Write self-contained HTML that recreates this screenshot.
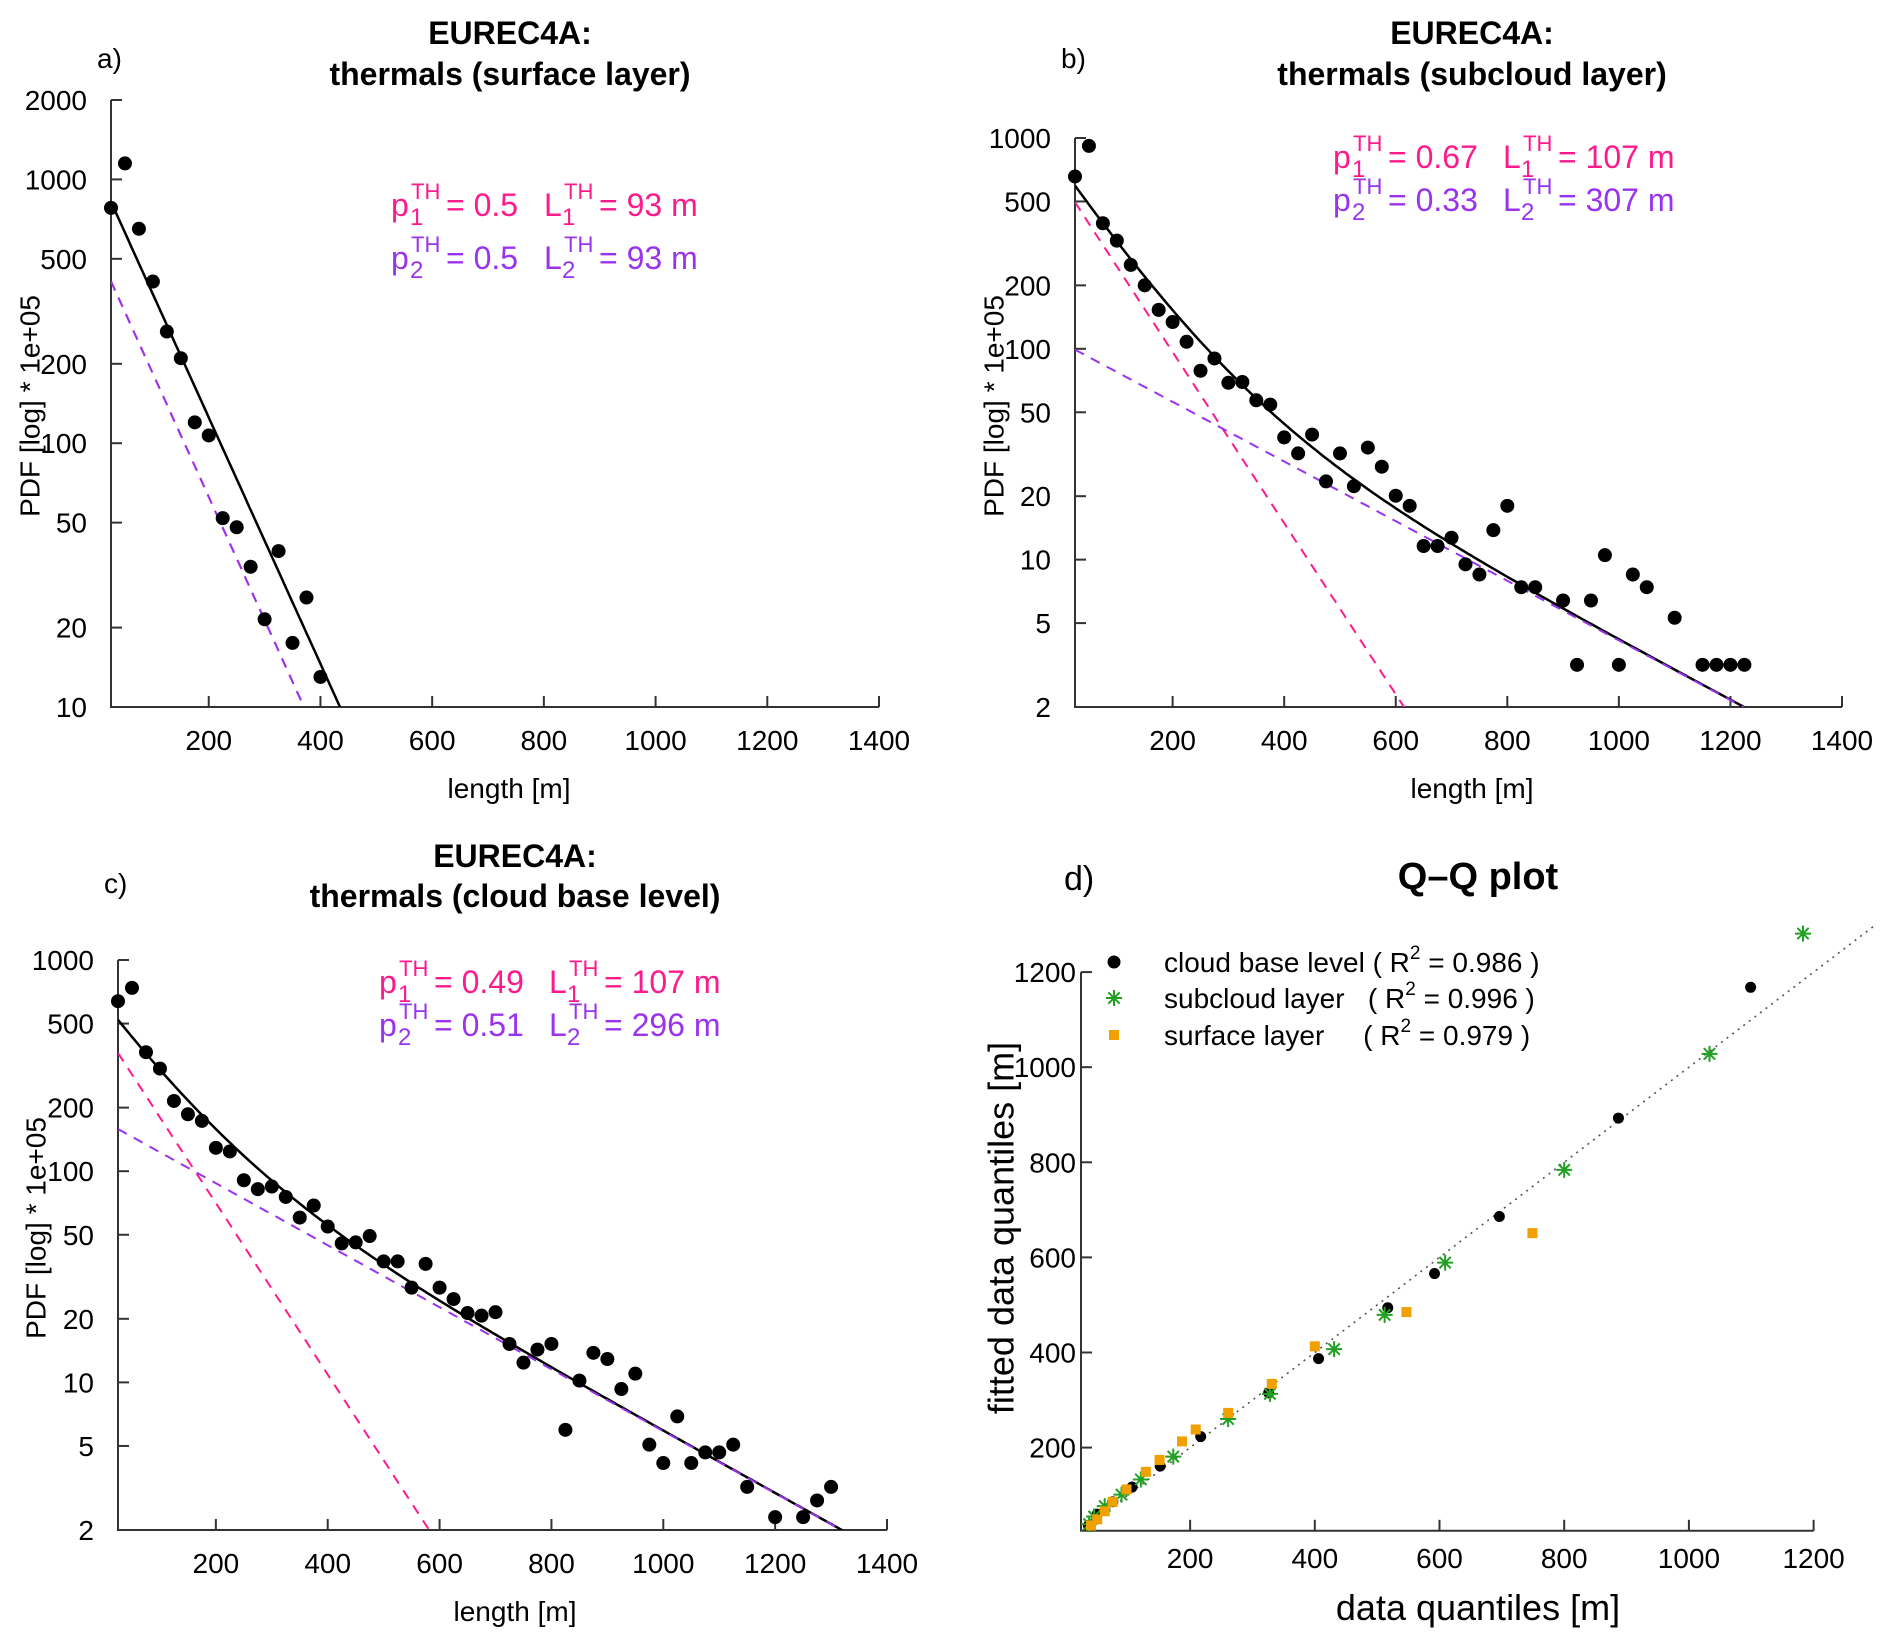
<!DOCTYPE html>
<html><head><meta charset="utf-8"><style>
html,body{margin:0;padding:0;background:#fff}
svg{display:block;font-family:"Liberation Sans",sans-serif}
</style></head><body>
<svg id="fig" width="1892" height="1644" viewBox="0 0 1892 1644" xmlns="http://www.w3.org/2000/svg">
<rect width="1892" height="1644" fill="#fff"/>
<g font-family="Liberation Sans, sans-serif" fill="#000">
<text x="97" y="68" font-size="28">a)</text>
<text x="510" y="44" font-size="32" font-weight="bold" text-anchor="middle">EUREC4A:</text>
<text x="510" y="85" font-size="32" font-weight="bold" text-anchor="middle">thermals (surface layer)</text>
<text x="1061" y="68" font-size="28">b)</text>
<text x="1472" y="44" font-size="32" font-weight="bold" text-anchor="middle">EUREC4A:</text>
<text x="1472" y="85" font-size="32" font-weight="bold" text-anchor="middle">thermals (subcloud layer)</text>
<text x="104" y="893" font-size="28">c)</text>
<text x="515" y="867" font-size="32" font-weight="bold" text-anchor="middle">EUREC4A:</text>
<text x="515" y="907" font-size="32" font-weight="bold" text-anchor="middle">thermals (cloud base level)</text>
<text x="1064" y="890" font-size="34">d)</text>
<text x="1478" y="889" font-size="38" font-weight="bold" text-anchor="middle">Q–Q plot</text>
<text x="509" y="798" font-size="28" text-anchor="middle">length [m]</text>
<text x="1472" y="798" font-size="28" text-anchor="middle">length [m]</text>
<text x="515" y="1621" font-size="28" text-anchor="middle">length [m]</text>
<text x="1478" y="1620" font-size="36" text-anchor="middle">data quantiles [m]</text>
<text transform="translate(30,406) rotate(-90)" font-size="28" text-anchor="middle" dominant-baseline="central">PDF [log] * 1e+05</text>
<text transform="translate(994,406) rotate(-90)" font-size="28" text-anchor="middle" dominant-baseline="central">PDF [log] * 1e+05</text>
<text transform="translate(36,1228) rotate(-90)" font-size="28" text-anchor="middle" dominant-baseline="central">PDF [log] * 1e+05</text>
<text transform="translate(1001,1228) rotate(-90)" font-size="36" text-anchor="middle" dominant-baseline="central">fitted data quantiles [m]</text>
</g>
<g id="layer"></g>
</svg>
<script>
// ---- data ----
const xA = [25,50,75,100,125,150,175,200,225,250,275,300,325,350,375,400];
const yA = [780,1150,650,410,265,210,120,107,52,48,34,21.5,39,17.5,26,13];
const pA = [0.5,0.5];
const LA = [93,93];
const xB = [25,50,75,100,125,150,175,200,225,250,275,300,325,350,375,400,425,450,475,500,525,550,575,600,625,650,675,700,725,750,775,800,825,850,900,925,950,975,1000,1025,1050,1100,1150,1175,1200,1225];
const yB = [657,917,394,326,250,200,153,134,108,78.7,90,69,69.6,57,54.4,38,31.9,39.2,23.5,31.9,22.3,34,27.6,20.1,18,11.6,11.6,12.7,9.5,8.5,13.8,18,7.4,7.4,6.4,3.17,6.4,10.5,3.17,8.5,7.4,5.3,3.17,3.17,3.17,3.17];
const pB = [0.67,0.33];
const LB = [107,307];
const xC = [25,50,75,100,125,150,175,200,225,250,275,300,325,350,375,400,425,450,475,500,525,550,575,600,625,650,675,700,725,750,775,800,825,850,875,900,925,950,975,1000,1025,1050,1075,1100,1125,1150,1200,1250,1275,1300];
const yC = [638,738,366,306,215,186,173,129,124,90.6,82.2,84.6,75.5,60.3,68.8,54.7,45.5,46,49.3,37.4,37.4,28.1,36.4,28.1,24.8,21.3,20.7,21.5,15.2,12.4,14.3,15.2,5.96,10.2,13.8,12.9,9.3,11,5.07,4.15,6.9,4.15,4.66,4.66,5.07,3.2,2.3,2.3,2.76,3.2];
const pC = [0.49,0.51];
const LC = [107,296];
const qqCloudX = [1099,887,696,592,517,406,326,217,152,107,76,51,37];
const qqCloudY = [1168,893,686,566,494,387,315,223,161,117,86,60,36];
const qqSubX = [1183,1033,800,609,512,431,328,261,173,121,90,63,46,38];
const qqSubY = [1281,1028,784,589,479,407,313,260,181,133,101,77,55,39];
const qqSurfX = [749,547,400,331,261,209,187,151,129,98,76,63,51,41];
const qqSurfY = [651,485,413,334,273,238,213,174,149,112,86,66,49,36];
const xTicks = [200,400,600,800,1000,1200,1400];
const yTicksA = [10,20,50,100,200,500,1000,2000];
const yTicksBC = [2,5,10,20,50,100,200,500,1000];
const qqTicks = [200,400,600,800,1000,1200];
const legendLabels = ["cloud base level ( R","subcloud layer   ( R","surface layer     ( R"];
const legendR2 = ["0.986","0.996","0.979"];

const NS = "http://www.w3.org/2000/svg";
const layer = document.getElementById('layer');
const PINK = "#ff1a8c", PURP = "#9933ee";
function mk(tag, attrs, parent){ const e=document.createElementNS(NS,tag); for(const k in attrs) e.setAttribute(k,attrs[k]); (parent||layer).appendChild(e); return e; }

function logPanel(id, px0, px1, pyTop, pyBot, ymin, ymax, yTicks, xs, ys, p, L, ann){
  const xmin=25, xmax=1400;
  const sx = v => px0 + (v-xmin)/(xmax-xmin)*(px1-px0);
  const sy = v => pyBot - (Math.log10(v)-Math.log10(ymin))/(Math.log10(ymax)-Math.log10(ymin))*(pyBot-pyTop);
  const g = mk('g',{});
  
  
  const cp = mk('clipPath',{id:'clip'+id}, g);
  mk('rect',{x:px0,y:pyTop,width:px1-px0,height:pyBot-pyTop},cp);
  // axes
  const ax = mk('path',{d:`M${px0},${pyTop}V${pyBot}H${px1}`,fill:'none',stroke:'#333','stroke-width':2},g);
  
  
  xTicks.forEach(t=>{
    const x=sx(t);
    const tk = mk('line',{x1:x,x2:x,y1:pyBot,y2:pyBot-11,stroke:'#333','stroke-width':2},g);
    
    
    const tl = mk('text',{x:x,y:pyBot+43,'font-size':28,'text-anchor':'middle'},g);
    
    
    tl.textContent=t;
  });
  yTicks.forEach(t=>{
    const y=sy(t);
    const tk = mk('line',{x1:px0,x2:px0+11,y1:y,y2:y,stroke:'#333','stroke-width':2},g);
    
    
    const tl = mk('text',{x:px0-24,y:y+10,'font-size':28,'text-anchor':'end'},g);
    
    
    tl.textContent=t;
  });
  const cg = mk('g',{'clip-path':`url(#clip${id})`},g);
  const comp = (i,x)=> 1e5*p[i]/L[i]*Math.exp(-x/L[i]);
  function curve(f, color, dash, w, name){
    let d='';
    for(let x=xmin; x<=xmax; x+=5){ const v=f(x); const yy = v>0? sy(v) : pyBot+100; d += (d?'L':'M')+sx(x).toFixed(1)+','+Math.min(yy,pyBot+100).toFixed(1); }
    const e = mk('path',{d:d,fill:'none',stroke:color,'stroke-width':w,'stroke-dasharray':dash||'none'},cg);
    
    
  }
  xs.forEach((x,i)=>{
    const c = mk('circle',{cx:sx(x),cy:sy(ys[i]),r:7,fill:'#000'},g);
    
    
  });
  curve(x=>comp(0,x)+comp(1,x),'#000',null,2.5,'fit-total-line');
  curve(x=>comp(0,x),PINK,'10,8',2,'component-1-line');
  curve(x=>comp(1,x),PURP,'10,8',2,'component-2-line');
  // annotation
  const rows=[[p[0],L[0],PINK,'1',ann.y1],[p[1],L[1],PURP,'2',ann.y2]];
  rows.forEach(r=>{
    const a = mk('g',{fill:r[2]},g);
    
    
    const x0=ann.x, y=r[4];
    const parts=[[x0,y,32,'p'],[x0+19,y+9,24,r[3]],[x0+20,y-17,22,'TH'],[x0+55,y,32,'= '+r[0]],
      [x0+ann.lo,y,32,'L'],[x0+ann.lo+18,y+9,24,r[3]],[x0+ann.lo+20,y-17,22,'TH'],[x0+ann.lo+55,y,32,'= '+r[1]+' m']];
    parts.forEach(q=>{ const t=mk('text',{x:q[0],y:q[1],'font-size':q[2]},a); t.textContent=q[3]; });
  });
}
logPanel('a',111,879,100,707,10,2000,yTicksA,xA,yA,pA,LA,{x:391,y1:216,y2:269,lo:153});
logPanel('b',1075,1842,138,707,2,1000,yTicksBC,xB,yB,pB,LB,{x:1333,y1:168,y2:211,lo:170});
logPanel('c',118,887,960,1530,2,1000,yTicksBC,xC,yC,pC,LC,{x:379,y1:993,y2:1036,lo:170});

// ---- Q-Q panel ----
(function(){
  const qx = v => 1081 + (v-25)*124.7/200;
  const qy = v => 1530.8 - (v-25)*95.1/200;
  const g = mk('g',{});
  
  
  const ax = mk('path',{d:`M${qx(25)},${qy(1200)}V${qy(25)}H${qx(1200)}`,fill:'none',stroke:'#333','stroke-width':2},g);
  
  
  qqTicks.forEach(t=>{
    const tk = mk('line',{x1:qx(t),x2:qx(t),y1:qy(25),y2:qy(25)-11,stroke:'#333','stroke-width':2},g);
    
    
    const tl = mk('text',{x:qx(t),y:qy(25)+37,'font-size':28,'text-anchor':'middle'},g);
    
    
    tl.textContent=t;
    const tk2 = mk('line',{x1:qx(25),x2:qx(25)+11,y1:qy(t),y2:qy(t),stroke:'#333','stroke-width':2},g);
    
    
    const tl2 = mk('text',{x:qx(25)-5,y:qy(t)+10,'font-size':28,'text-anchor':'end'},g);
    
    
    tl2.textContent=t;
  });
  const ref = mk('line',{x1:qx(25),y1:qy(25),x2:qx(1300),y2:qy(1300),stroke:'#555','stroke-width':1.6,'stroke-dasharray':'2,5'},g);
  
  
  function circ(x,y,r){ const c=mk('circle',{cx:x,cy:y,r:r,fill:'#000'},g);   }
  function star(x,y){ let d=''; for(let k=0;k<4;k++){const a=k*Math.PI/4; const dx=8*Math.cos(a), dy=8*Math.sin(a); d+=`M${x-dx},${y-dy}L${x+dx},${y+dy}`;} const s=mk('path',{d:d,stroke:'#22a022','stroke-width':2,fill:'none'},g);   }
  function sq(x,y){ const s=mk('rect',{x:x-5,y:y-5,width:10,height:10,fill:'#f0a000'},g);   }
  qqCloudX.forEach((v,i)=>circ(qx(v),qy(qqCloudY[i]),5.5));
  qqSubX.forEach((v,i)=>star(qx(v),qy(qqSubY[i])));
  qqSurfX.forEach((v,i)=>sq(qx(v),qy(qqSurfY[i])));
  // legend
  const ly=[962,998,1035];
  circ(1114,ly[0],6.5); star(1114,ly[1]); sq(1114,ly[2]);
  legendLabels.forEach((lab,i)=>{
    const t = mk('text',{x:1164,y:ly[i]+10,'font-size':28,'xml:space':'preserve'},g);
    
    
    t.setAttributeNS('http://www.w3.org/XML/1998/namespace','xml:space','preserve');
    const a=mk('tspan',{},t); a.textContent=lab;
    const b=mk('tspan',{dy:-13,'font-size':19},t); b.textContent='2';
    const c=mk('tspan',{dy:13},t); c.textContent=' = '+legendR2[i]+' )';
  });
})();
</script>
</body></html>
